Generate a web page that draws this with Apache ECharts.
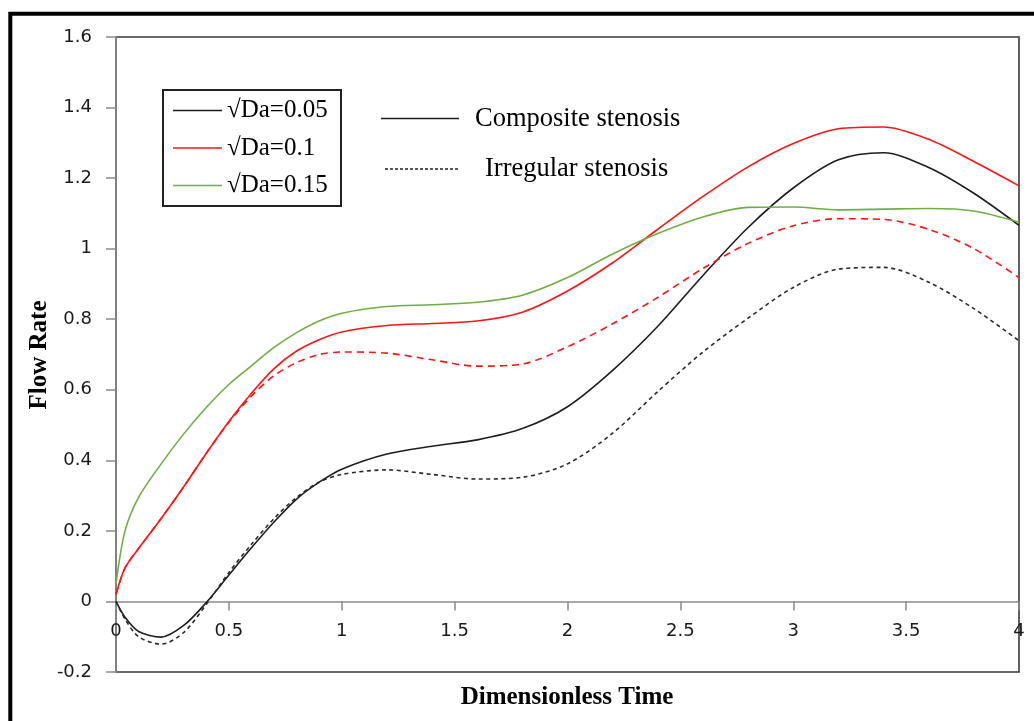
<!DOCTYPE html>
<html>
<head>
<meta charset="utf-8">
<title>Flow Rate vs Dimensionless Time</title>
<script src="https://cdn.jsdelivr.net/npm/echarts@6/dist/echarts.min.js"></script>
<style>
  html, body { margin: 0; padding: 0; background: #fff; }
  #chart { width: 1034px; height: 721px; }
</style>
</head>
<body>
<div id="chart"></div>
<script>
// Dimensionless time samples shared by every curve
const times = [0, 0.04, 0.1, 0.2, 0.3, 0.4, 0.5, 0.6, 0.7, 0.8, 0.9, 1.0, 1.2, 1.4, 1.6, 1.8, 2.0, 2.2, 2.4, 2.6, 2.8, 3.0, 3.2, 3.4, 3.6, 3.8, 4.0];

// Composite stenosis (solid lines)
const compositeDa005 = [0, -0.045, -0.085, -0.101, -0.068, -0.003, 0.075, 0.152, 0.225, 0.29, 0.338, 0.375, 0.418, 0.44, 0.458, 0.49, 0.552, 0.655, 0.78, 0.924, 1.06, 1.172, 1.252, 1.272, 1.23, 1.157, 1.066];
const compositeDa01 = [0.02, 0.095, 0.15, 0.235, 0.325, 0.42, 0.51, 0.59, 0.66, 0.71, 0.742, 0.764, 0.782, 0.788, 0.795, 0.82, 0.88, 0.96, 1.055, 1.148, 1.232, 1.298, 1.34, 1.345, 1.31, 1.247, 1.178];
const compositeDa015 = [0.05, 0.2, 0.295, 0.39, 0.475, 0.55, 0.615, 0.668, 0.72, 0.762, 0.795, 0.817, 0.836, 0.841, 0.848, 0.868, 0.918, 0.985, 1.043, 1.09, 1.117, 1.118, 1.11, 1.112, 1.114, 1.107, 1.075];

// Irregular stenosis (dashed lines)
const irregularDa005 = [0, -0.05, -0.1, -0.121, -0.088, -0.008, 0.082, 0.162, 0.235, 0.295, 0.338, 0.36, 0.373, 0.36, 0.347, 0.352, 0.39, 0.477, 0.595, 0.707, 0.803, 0.89, 0.942, 0.947, 0.905, 0.83, 0.739];
const irregularDa01 = [0.02, 0.095, 0.15, 0.235, 0.325, 0.42, 0.508, 0.582, 0.64, 0.677, 0.7, 0.707, 0.704, 0.685, 0.667, 0.673, 0.722, 0.787, 0.862, 0.944, 1.015, 1.065, 1.085, 1.083, 1.055, 1.0, 0.918];

// Tick labels
const xTickLabels = ['0', '0.5', '1', '1.5', '2', '2.5', '3', '3.5', '4'];
const yTickLabels = ['-0.2', '0', '0.2', '0.4', '0.6', '0.8', '1', '1.2', '1.4', '1.6'];

// Legend names
const daNames = ['\u221ADa=0.05', '\u221ADa=0.1', '\u221ADa=0.15'];
const styleNames = ['Composite stenosis', 'Irregular stenosis'];

const X_MIN = 0, X_MAX = 4, X_STEP = 0.5;
const Y_MIN = -0.2, Y_MAX = 1.6, Y_STEP = 0.2;

const W = 1034, H = 721;
const GRID = { left: 116, right: 15, top: 37, bottom: 49 };
const plotHeight = H - GRID.top - GRID.bottom;
// the time axis sits on the zero line of the flow-rate axis
const xAxisOffset = -plotHeight * (0 - Y_MIN) / (Y_MAX - Y_MIN);

const BLACK = '#1e1e1e', RED = '#ff1414', GREEN = '#70ad47';
const SERIF = '"Liberation Serif", "Times New Roman", serif';
const SANS = '"DejaVu Sans", Verdana, sans-serif';

const pairs = vals => times.map((t, i) => [t, vals[i]]);

function lineSeries(name, vals, color, dashed) {
  return {
    name: name,
    type: 'line',
    data: pairs(vals),
    smooth: 0.3,
    symbol: 'none',
    showSymbol: false,
    color: color,
    lineStyle: {
      color: color,
      width: 1.6,
      type: dashed ? dashed : 'solid'
    },
    emphasis: { disabled: true }
  };
}

const chart = echarts.init(document.getElementById('chart'), null, { renderer: 'canvas' });

chart.setOption({
  backgroundColor: '#ffffff',
  animation: false,
  grid: {
    left: GRID.left, right: GRID.right, top: GRID.top, bottom: GRID.bottom,
    show: true,
    borderColor: '#3a3a3a',
    borderWidth: 1.6,
    backgroundColor: 'transparent'
  },
  xAxis: {
    type: 'value',
    position: 'bottom',
    offset: xAxisOffset,
    min: X_MIN, max: X_MAX, interval: X_STEP,
    axisLine: { show: true, onZero: false, lineStyle: { color: '#8c8c8c', width: 1.5 } },
    axisTick: { show: true, length: 9, lineStyle: { color: '#8c8c8c', width: 1.5 } },
    splitLine: { show: false },
    axisLabel: {
      margin: 21,
      fontFamily: SANS, fontSize: 18, color: '#1a1a1a',
      formatter: v => xTickLabels[Math.round((v - X_MIN) / X_STEP)]
    }
  },
  yAxis: {
    type: 'value',
    min: Y_MIN, max: Y_MAX, interval: Y_STEP,
    axisLine: { show: true, onZero: false, lineStyle: { color: '#8c8c8c', width: 1.5 } },
    axisTick: { show: true, length: 10, lineStyle: { color: '#8c8c8c', width: 1.5 } },
    splitLine: { show: false },
    axisLabel: {
      margin: 24,
      fontFamily: SANS, fontSize: 18, color: '#1a1a1a',
      formatter: v => yTickLabels[Math.round((v - Y_MIN) / Y_STEP)]
    }
  },
  legend: {
    data: daNames,
    orient: 'vertical',
    left: 173, top: 98,
    padding: 0,
    itemGap: 12.5,
    itemWidth: 49,
    itemHeight: 1.6,
    icon: 'rect',
    selectedMode: false,
    textStyle: { fontFamily: SERIF, fontSize: 25, color: '#000', lineHeight: 25, padding: [0, 0, 0, 0] }
  },
  series: [
    lineSeries(daNames[0], compositeDa005, BLACK),
    lineSeries(daNames[1], compositeDa01, RED),
    lineSeries(daNames[2], compositeDa015, GREEN),
    lineSeries('Irregular ' + daNames[0], irregularDa005, '#2a2a2a', [4, 3.5]),
    lineSeries('Irregular ' + daNames[1], irregularDa01, RED, [7, 5])
  ],
  graphic: [
    // outer frame around the whole figure
    { type: 'rect', silent: true, z: 100,
      shape: { x: 10.3, y: 13.7, width: 1100, height: 800 },
      style: { fill: 'none', stroke: '#000', lineWidth: 4 } },
    // box around the Da legend
    { type: 'rect', silent: true, z: 100,
      shape: { x: 163, y: 90, width: 178, height: 116 },
      style: { fill: 'none', stroke: '#222', lineWidth: 2 } },
    // line-style key
    { type: 'line', silent: true, z: 100,
      shape: { x1: 381, y1: 118.5, x2: 459, y2: 118.5 },
      style: { stroke: '#1e1e1e', lineWidth: 1.6 } },
    { type: 'text', silent: true, z: 100, x: 475, y: 119,
      style: { text: styleNames[0], font: '26.5px ' + SERIF, fill: '#000', textAlign: 'left', textVerticalAlign: 'middle' } },
    { type: 'line', silent: true, z: 100,
      shape: { x1: 385, y1: 169, x2: 460, y2: 169 },
      style: { stroke: '#1e1e1e', lineWidth: 1.3, lineDash: [3, 2] } },
    { type: 'text', silent: true, z: 100, x: 485, y: 169,
      style: { text: styleNames[1], font: '26.5px ' + SERIF, fill: '#000', textAlign: 'left', textVerticalAlign: 'middle' } },
    // axis titles
    { type: 'text', silent: true, z: 100, x: 567, y: 698,
      style: { text: 'Dimensionless Time', font: 'bold 25px ' + SERIF, fill: '#000', textAlign: 'center', textVerticalAlign: 'middle' } },
    { type: 'text', silent: true, z: 100, x: 40, y: 355, rotation: Math.PI / 2,
      style: { text: 'Flow Rate', font: 'bold 25px ' + SERIF, fill: '#000', textAlign: 'center', textVerticalAlign: 'middle' } }
  ]
});
</script>
</body>
</html>
